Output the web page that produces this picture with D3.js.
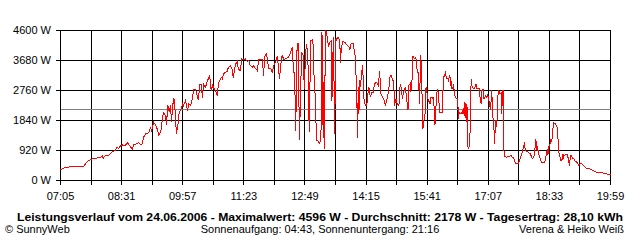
<!DOCTYPE html>
<html>
<head>
<meta charset="utf-8">
<script src="https://cdn.jsdelivr.net/npm/d3@7"></script>
<style>
	body { margin: 0; background: #fff; }
	svg { display: block; font-family: Arial, "Liberation Sans", sans-serif; }
</style>
</head>
<body>
<svg id="chart" width="640" height="240"></svg>
<script>
(function() {
	'use strict';

	// Axis labels.
	var timeLabels = ['07:05', '08:31', '09:57', '11:23', '12:49', '14:15', '15:41', '17:07', '18:33', '19:59'];
	var powerTicks = [0, 920, 1840, 2760, 3680, 4600];

	// Measurements: minute of day, power in W.
	var minutes = [
		425, 429, 439, 457, 460, 464, 471, 480, 484, 485, 488, 493, 495, 498, 502, 504, 507, 509, 512, 516,
		519, 523, 526, 528, 533, 535, 538, 540, 542, 545, 549, 552, 553, 556, 559, 562, 563, 566, 569, 570,
		573, 574, 576, 578, 580, 581, 584, 585, 587, 588, 590, 591, 592, 595, 597, 598, 601, 604, 605, 608,
		611, 612, 615, 618, 619, 621, 623, 625, 626, 629, 632, 633, 635, 637, 639, 640, 643, 646, 647, 649,
		652, 653, 654, 657, 660, 661, 664, 667, 668, 671, 674, 675, 678, 680, 682, 685, 688, 690, 692, 695,
		697, 699, 702, 704, 709, 711, 712, 715, 716, 718, 721, 723, 725, 728, 730, 732, 733, 736, 737, 739,
		742, 744, 746, 749, 751, 753, 754, 755, 756, 757, 758, 760, 761, 763, 764, 766, 767, 768, 770, 771,
		773, 774, 775, 776, 777, 780, 781, 782, 784, 785, 787, 788, 790, 791, 792, 793, 794, 795, 796, 798,
		799, 801, 802, 804, 806, 807, 808, 809, 811, 812, 813, 814, 816, 818, 819, 820, 822, 825, 827, 831,
		832, 834, 837, 839, 840, 842, 843, 844, 845, 846, 847, 848, 850, 851, 852, 853, 855, 857, 858, 859,
		860, 861, 863, 865, 867, 870, 872, 873, 874, 876, 878, 880, 882, 884, 886, 887, 888, 890, 892, 894,
		895, 897, 899, 901, 902, 903, 905, 906, 908, 910, 912, 914, 915, 917, 918, 920, 921, 923, 925, 927,
		929, 930, 931, 932, 933, 934, 935, 936, 938, 939, 940, 941, 942, 945, 946, 948, 950, 951, 952, 953,
		954, 955, 956, 957, 959, 962, 964, 965, 967, 968, 970, 971, 973, 974, 975, 976, 978, 980, 982, 984,
		985, 986, 987, 989, 990, 992, 993, 994, 995, 996, 997, 998, 999, 1001, 1002, 1003, 1004, 1005, 1006, 1008,
		1009, 1010, 1011, 1014, 1015, 1017, 1018, 1020, 1021, 1023, 1025, 1026, 1028, 1029, 1030, 1032, 1033, 1034, 1035, 1036,
		1037, 1039, 1040, 1041, 1042, 1043, 1045, 1046, 1047, 1048, 1049, 1050, 1053, 1055, 1057, 1059, 1061, 1063, 1065, 1068,
		1070, 1072, 1075, 1077, 1078, 1079, 1082, 1084, 1086, 1089, 1091, 1092, 1094, 1095, 1096, 1098, 1100, 1101, 1103, 1105,
		1107, 1109, 1110, 1111, 1112, 1114, 1115, 1116, 1117, 1118, 1119, 1121, 1122, 1124, 1125, 1126, 1127, 1129, 1131, 1132,
		1133, 1134, 1136, 1138, 1139, 1140, 1141, 1143, 1144, 1146, 1147, 1149, 1150, 1152, 1154, 1156, 1159, 1161, 1165, 1168,
		1171, 1175, 1179, 1183, 1187, 1192, 1199
	];
	var watts = [
		330, 380, 420, 420, 510, 610, 670, 700, 750, 680, 770, 770, 820, 890, 920, 1020, 990, 1050, 1090, 1070,
		1160, 1050, 950, 1090, 1130, 1170, 1090, 1130, 1330, 1430, 1460, 1630, 1500, 1790, 1690, 1530, 1380, 1480, 1990, 2080,
		1990, 1690, 2300, 2090, 2300, 1790, 2520, 2500, 1940, 1430, 1690, 1840, 2090, 2200, 2380, 2300, 2450, 2120, 2350, 2300,
		2550, 2790, 2790, 2550, 2480, 2930, 2930, 2520, 2970, 2860, 3070, 3120, 3220, 2760, 2910, 2860, 2760, 2590, 2970, 3070,
		3170, 3070, 3270, 3320, 3340, 3470, 3510, 3400, 3140, 3550, 3650, 3430, 3370, 3730, 3700, 3730, 3650, 3680, 3530, 3470,
		3530, 3440, 3370, 3700, 3700, 3220, 3780, 3890, 3730, 3440, 3430, 3320, 3530, 3630, 3830, 3430, 3120, 3730, 3850, 3710,
		3730, 3760, 3780, 3930, 4090, 3320, 3320, 2660, 1530, 2860, 4190, 4190, 1230, 2550, 3930, 3890, 3730, 2810, 3890, 4190,
		3890, 2810, 1480, 2810, 4290, 4320, 3930, 3010, 2450, 1230, 1230, 1170, 1130, 1430, 1630, 4550, 1690, 3010, 970, 4596,
		4570, 4320, 4090, 4240, 4290, 2450, 3470, 4390, 1430, 4350, 4290, 4350, 4390, 4290, 3610, 3990, 4260, 4240, 4190, 4090,
		3990, 4190, 4190, 3890, 3780, 2550, 1310, 2860, 2050, 3070, 2860, 3120, 3530, 3120, 2510, 2350, 2300, 2400, 2760, 2860,
		2710, 2550, 2710, 2710, 2970, 3010, 2910, 3070, 3370, 2660, 2550, 2510, 2300, 2450, 2660, 2760, 3120, 3240, 3120, 3010,
		2300, 2510, 2350, 2300, 2400, 2970, 2810, 2510, 2710, 2860, 2550, 2150, 2910, 2970, 2710, 3140, 3830, 3730, 3780, 3370,
		3270, 2350, 3010, 3850, 3270, 2450, 1590, 1790, 2050, 2810, 2830, 2660, 2510, 2350, 2550, 2520, 2550, 2120, 1710, 2050,
		2550, 2760, 2810, 2510, 2090, 2090, 3120, 3220, 3320, 3120, 3140, 3070, 3240, 2910, 3040, 2810, 2910, 2610, 2520, 2520,
		1890, 2090, 2050, 2080, 2050, 2220, 1990, 2420, 2200, 1790, 2350, 1070, 990, 1070, 2350, 3100, 2910, 2860, 2810, 2830,
		2910, 2970, 2830, 2810, 2610, 2350, 2760, 2790, 2510, 2590, 2550, 2660, 2450, 2350, 2150, 2760, 1940, 1890, 1590, 1130,
		1840, 1630, 2450, 2710, 2760, 2660, 2690, 2050, 2760, 2760, 920, 750, 710, 750, 750, 770, 710, 680, 540, 510,
		540, 670, 890, 1050, 1170, 920, 890, 850, 820, 680, 710, 820, 1280, 950, 1020, 820, 680, 610, 540, 540,
		610, 820, 950, 790, 1020, 1130, 1230, 1170, 1330, 1590, 1770, 1740, 1710, 1630, 1330, 870, 820, 610, 640, 820,
		710, 770, 790, 790, 710, 670, 460, 770, 750, 680, 670, 610, 580, 560, 460, 510, 510, 460, 380, 380,
		340, 310, 250, 250, 240, 210, 180
	];

	var maxWatt = 4596,
			averageWatt = 2178,
			dayYield = '28,10',
			dateLabel = '24.06.2006',
			sunrise = '04:43',
			sunset = '21:16';

	var left = 60, right = 610, top = 30, bottom = 180;

	function toMinutes(label) {
		var parts = label.split(':');
		return +parts[0] * 60 + +parts[1];}

	var tStart = toMinutes(timeLabels[0]),
			tEnd = toMinutes(timeLabels[timeLabels.length - 1]);

	var x = d3.scaleLinear().domain([tStart, tEnd]).range([left, right]);
	var y = d3.scaleLinear().domain([0, powerTicks[powerTicks.length - 1]]).range([bottom, top]);

	// Grid every half label step.
	var gridTimes = d3.range((timeLabels.length - 1) * 2 + 1).map(function(i) {
		return tStart + i * (tEnd - tStart) / ((timeLabels.length - 1) * 2);});

	var svg = d3.select('#chart');
	svg.append('rect').attr('width', 640).attr('height', 240).attr('fill', '#fff');

	var g = svg.append('g').attr('transform', 'translate(0.5,0.5)');

	// Horizontal grid.
	g.append('g').selectAll('line').data(powerTicks).enter()
		.append('line')
		.attr('x1', left - 5).attr('x2', right)
		.attr('y1', function(d) {return Math.round(y(d));})
		.attr('y2', function(d) {return Math.round(y(d));})
		.attr('stroke', '#000')
		.attr('shape-rendering', 'crispEdges');

	// Vertical grid.
	g.append('g').selectAll('line').data(gridTimes).enter()
		.append('line')
		.attr('x1', function(d) {return Math.round(x(d));})
		.attr('x2', function(d) {return Math.round(x(d));})
		.attr('y1', top).attr('y2', bottom + 4)
		.attr('stroke', '#000')
		.attr('shape-rendering', 'crispEdges');

	// Average line.
	g.append('line')
		.attr('x1', left).attr('x2', right)
		.attr('y1', Math.round(y(averageWatt))).attr('y2', Math.round(y(averageWatt)))
		.attr('stroke', '#808080')
		.attr('shape-rendering', 'crispEdges');

	// Power curve.
	var line = d3.line()
		.x(function(d) {return x(d);})
		.y(function(d, i) {return y(watts[i]);});
	g.append('path')
		.datum(minutes)
		.attr('d', line)
		.attr('fill', 'none')
		.attr('stroke', '#ff0000')
		.attr('stroke-width', 1)
		.attr('shape-rendering', 'crispEdges');

	// Y labels.
	svg.append('g').selectAll('text').data(powerTicks).enter()
		.append('text')
		.attr('x', 51)
		.attr('y', function(d) {return y(d) + 4;})
		.attr('text-anchor', 'end')
		.style('font-size', '11px')
		.attr('fill', '#000')
		.text(function(d) {return d + ' W';});

	// X labels.
	svg.append('g').selectAll('text').data(timeLabels).enter()
		.append('text')
		.attr('x', function(d) {return x(toMinutes(d)) + 0.5;})
		.attr('y', 200)
		.attr('text-anchor', 'middle')
		.style('font-size', '11px')
		.attr('fill', '#000')
		.text(function(d) {return d;});

	// Title and footer.
	svg.append('text')
		.attr('x', 320).attr('y', 221)
		.attr('text-anchor', 'middle')
		.attr('textLength', 606)
		.attr('lengthAdjust', 'spacingAndGlyphs')
		.style('font-size', '11px')
		.style('font-weight', 'bold')
		.text('Leistungsverlauf vom ' + dateLabel + ' - Maximalwert: ' + maxWatt + ' W - Durchschnitt: '
			+ averageWatt + ' W - Tagesertrag: ' + dayYield + ' kWh');

	svg.append('text')
		.attr('x', 5).attr('y', 233)
		.style('font-size', '11px')
		.text('\u00a9 SunnyWeb');

	svg.append('text')
		.attr('x', 320).attr('y', 233)
		.attr('text-anchor', 'middle')
		.style('font-size', '11px')
		.text('Sonnenaufgang: ' + sunrise + ', Sonnenuntergang: ' + sunset);

	svg.append('text')
		.attr('x', 624).attr('y', 233)
		.attr('text-anchor', 'end')
		.style('font-size', '11px')
		.text('Verena & Heiko Wei\u00df');
})();
</script>
</body>
</html>
